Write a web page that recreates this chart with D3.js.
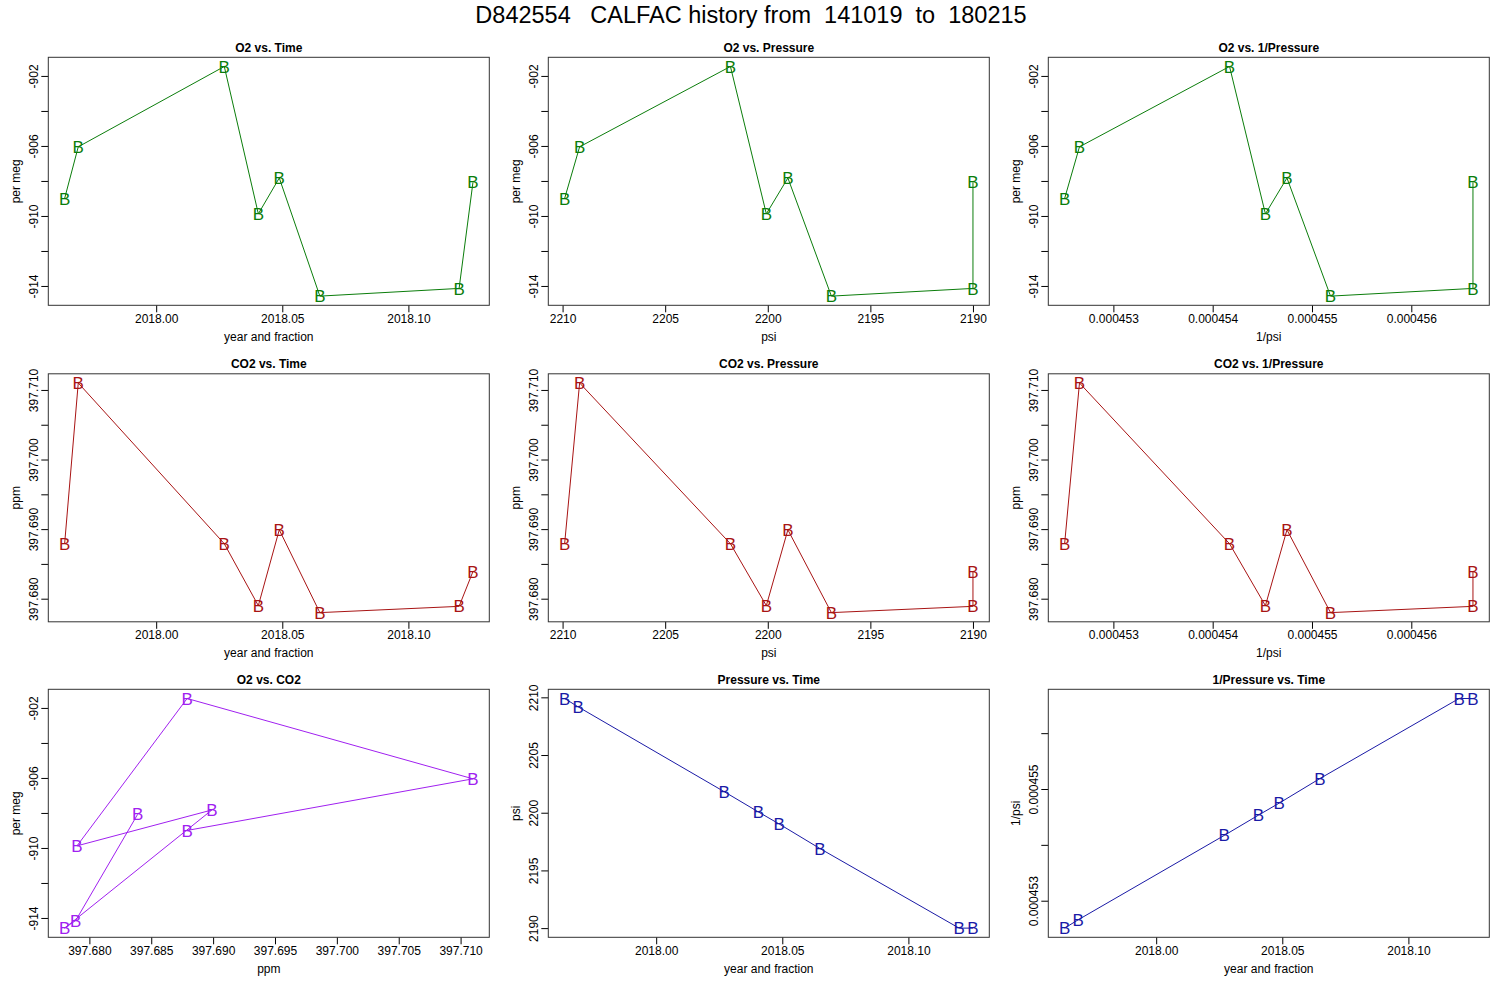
<!DOCTYPE html>
<html>
<head>
<meta charset="utf-8">
<script src="https://cdn.jsdelivr.net/npm/d3@7"></script>
<style>
  body { margin: 0; background: #fff; }
  svg { font-family: "Liberation Sans", Arial, sans-serif; }
  .ptitle { font-weight: bold; font-size: 12px; }
  .tick text { font-size: 12px; fill: #000; }
  .tick line { stroke: #000; }
  .domain { stroke: none; }
  .lab { font-size: 12px; }
</style>
</head>
<body>
<script>
// one row per calibration run, in time order
const TIME = [2017.9637, 2017.9691, 2018.0270, 2018.0405, 2018.0488, 2018.0649, 2018.1201, 2018.1256];
const O2 = [-909.0, -906.05, -901.46, -909.88, -907.83, -914.58, -914.14, -908.08];
const CO2 = [397.6879, 397.7110, 397.6879, 397.6790, 397.6899, 397.6780, 397.6789, 397.6839];
const PSI = [2209.9, 2209.17, 2201.82, 2200.07, 2199.02, 2196.9, 2190.0, 2190.0];
const INV_PSI = PSI.map(p => 1 / p);

const TIME_TICKS = [2018.00, 2018.05, 2018.10];
const O2_TICKS = [-914, -912, -910, -908, -906, -904, -902];
const O2_LABELS = [-914, -910, -906, -902];
const CO2_TICKS = [397.680, 397.685, 397.690, 397.695, 397.700, 397.705, 397.710];
const CO2_YLABELS = [397.680, 397.690, 397.700, 397.710];
const PSI_TICKS = [2190, 2195, 2200, 2205, 2210];
const INV_TICKS = [0.000453, 0.000454, 0.000455, 0.000456];
const INV_YLABELS = [0.000453, 0.000455];

const GREEN = "#0b7d0b";
const RED = "#a81414";
const PURPLE = "#a020f0";
const BLUE = "#1a1aa6";

const width = 1500;
const height = 1000;
const colLeft = [48.3, 548.3, 1048.3];
const rowTop = [57.3, 373.8, 689.3];
const plotW = 441;
const plotH = 248;
const tickLen = 7;

// plain hyphen minus, like R
const fmtTime = d => d.toFixed(2);
const fmtInt = d => String(Math.round(d));
const fmtCO2 = d => d.toFixed(3);
const fmtInv = d => d.toFixed(6);

const panels = [
  { title: "O2 vs. Time", x: TIME, y: O2, xlab: "year and fraction", ylab: "per meg", color: GREEN,
    xt: TIME_TICKS, xl: TIME_TICKS, xf: fmtTime, yt: O2_TICKS, yl: O2_LABELS, yf: fmtInt },
  { title: "O2 vs. Pressure", x: PSI, y: O2, xlab: "psi", ylab: "per meg", color: GREEN, xrev: true,
    xt: PSI_TICKS, xl: PSI_TICKS, xf: fmtInt, yt: O2_TICKS, yl: O2_LABELS, yf: fmtInt },
  { title: "O2 vs. 1/Pressure", x: INV_PSI, y: O2, xlab: "1/psi", ylab: "per meg", color: GREEN,
    xt: INV_TICKS, xl: INV_TICKS, xf: fmtInv, yt: O2_TICKS, yl: O2_LABELS, yf: fmtInt },
  { title: "CO2 vs. Time", x: TIME, y: CO2, xlab: "year and fraction", ylab: "ppm", color: RED,
    xt: TIME_TICKS, xl: TIME_TICKS, xf: fmtTime, yt: CO2_TICKS, yl: CO2_YLABELS, yf: fmtCO2 },
  { title: "CO2 vs. Pressure", x: PSI, y: CO2, xlab: "psi", ylab: "ppm", color: RED, xrev: true,
    xt: PSI_TICKS, xl: PSI_TICKS, xf: fmtInt, yt: CO2_TICKS, yl: CO2_YLABELS, yf: fmtCO2 },
  { title: "CO2 vs. 1/Pressure", x: INV_PSI, y: CO2, xlab: "1/psi", ylab: "ppm", color: RED,
    xt: INV_TICKS, xl: INV_TICKS, xf: fmtInv, yt: CO2_TICKS, yl: CO2_YLABELS, yf: fmtCO2 },
  { title: "O2 vs. CO2", x: CO2, y: O2, xlab: "ppm", ylab: "per meg", color: PURPLE,
    xt: CO2_TICKS, xl: CO2_TICKS, xf: fmtCO2, yt: O2_TICKS, yl: O2_LABELS, yf: fmtInt },
  { title: "Pressure vs. Time", x: TIME, y: PSI, xlab: "year and fraction", ylab: "psi", color: BLUE,
    xt: TIME_TICKS, xl: TIME_TICKS, xf: fmtTime, yt: PSI_TICKS, yl: PSI_TICKS, yf: fmtInt },
  { title: "1/Pressure vs. Time", x: TIME, y: INV_PSI, xlab: "year and fraction", ylab: "1/psi", color: BLUE,
    xt: TIME_TICKS, xl: TIME_TICKS, xf: fmtTime, yt: INV_TICKS, yl: INV_YLABELS, yf: fmtInv }
];

const svg = d3.select("body").append("svg")
  .attr("width", width)
  .attr("height", height);

svg.append("text")
  .attr("x", 751)
  .attr("y", 23)
  .attr("text-anchor", "middle")
  .attr("font-size", "23.5px")
  .style("white-space", "pre")
  .text("D842554   CALFAC history from  141019  to  180215");

// R style range: data extent padded 4% on each side
function padded(vals) {
  const [lo, hi] = d3.extent(vals);
  const p = (hi - lo) * 0.04;
  return [lo - p, hi + p];
}

function hasLabel(list, v) {
  return list.some(l => Math.abs(l - v) < 1e-9);
}

panels.forEach(function (p, i) {
  const left = colLeft[i % 3];
  const top = rowTop[Math.floor(i / 3)];
  const g = svg.append("g").attr("transform", "translate(" + left + "," + top + ")");

  const xd = padded(p.x);
  const x = d3.scaleLinear()
    .domain(p.xrev ? [xd[1], xd[0]] : xd)
    .range([0, plotW]);
  const y = d3.scaleLinear().domain(padded(p.y)).range([plotH, 0]);

  const xAxis = g.append("g")
    .attr("transform", "translate(0," + plotH + ")")
    .call(d3.axisBottom(x)
      .tickValues(p.xt)
      .tickSizeOuter(0)
      .tickSizeInner(tickLen)
      .tickFormat(d => hasLabel(p.xl, d) ? p.xf(d) : ""));
  xAxis.selectAll("text").attr("y", 17.3).attr("dy", null);

  const yAxis = g.append("g")
    .call(d3.axisLeft(y)
      .tickValues(p.yt)
      .tickSizeOuter(0)
      .tickSizeInner(tickLen)
      .tickFormat(d => hasLabel(p.yl, d) ? p.yf(d) : ""));
  yAxis.selectAll("text")
    .attr("transform", "rotate(-90)")
    .attr("x", 0)
    .attr("y", -10.7)
    .attr("dy", null)
    .attr("text-anchor", "middle");

  g.append("rect")
    .attr("width", plotW)
    .attr("height", plotH)
    .attr("fill", "none")
    .attr("stroke", "#333")
    .attr("stroke-width", 1);

  const pts = p.x.map((v, k) => [v, p.y[k]]);

  g.append("path")
    .datum(pts)
    .attr("fill", "none")
    .attr("stroke", p.color)
    .attr("stroke-width", 1)
    .attr("d", d3.line().x(d => x(d[0])).y(d => y(d[1])));

  g.selectAll(".mark")
    .data(pts)
    .enter()
    .append("text")
    .attr("class", "mark")
    .attr("x", d => x(d[0]))
    .attr("y", d => y(d[1]))
    .attr("dy", "0.36em")
    .attr("text-anchor", "middle")
    .attr("font-size", "17px")
    .attr("fill", p.color)
    .text("B");

  g.append("text")
    .attr("class", "ptitle")
    .attr("x", plotW / 2)
    .attr("y", -5.8)
    .attr("text-anchor", "middle")
    .text(p.title);

  g.append("text")
    .attr("class", "lab")
    .attr("x", plotW / 2)
    .attr("y", plotH + 35.7)
    .attr("text-anchor", "middle")
    .text(p.xlab);

  g.append("text")
    .attr("class", "lab")
    .attr("transform", "rotate(-90)")
    .attr("x", -plotH / 2)
    .attr("y", -28.8)
    .attr("text-anchor", "middle")
    .text(p.ylab);
});
</script>
</body>
</html>
